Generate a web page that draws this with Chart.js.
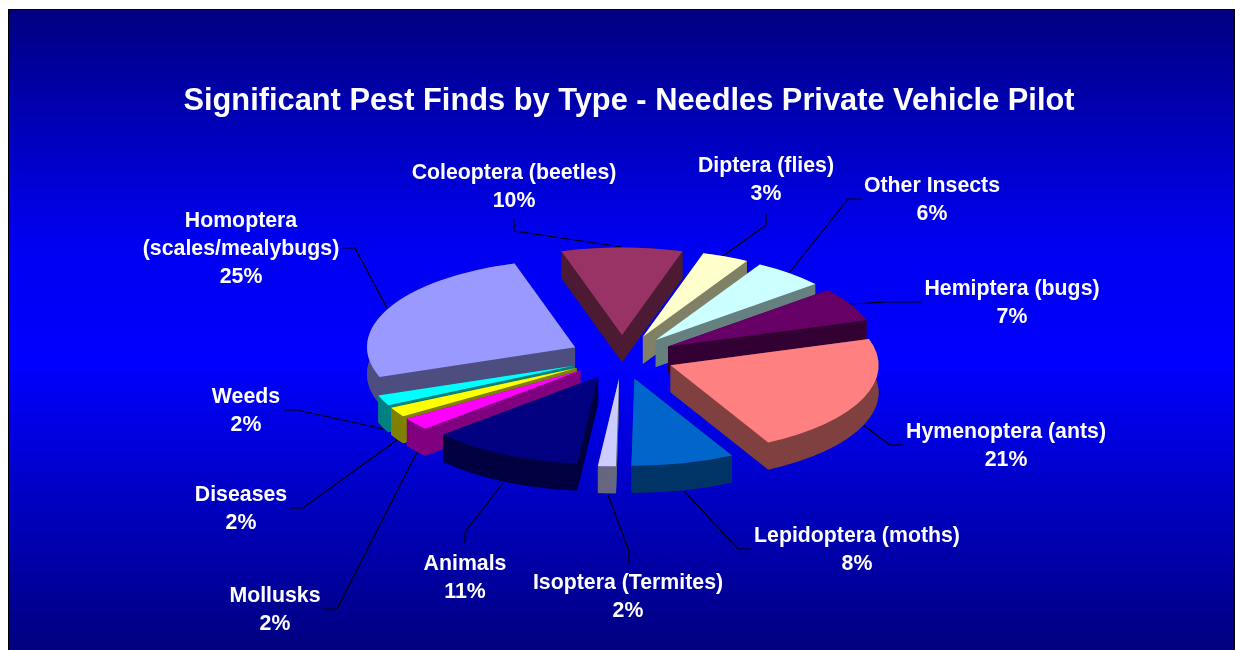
<!DOCTYPE html>
<html>
<head>
<meta charset="utf-8">
<title>Significant Pest Finds by Type</title>
<script src="https://cdn.jsdelivr.net/npm/chart.js@4"></script>
<style>
  html, body { margin: 0; padding: 0; background: #fff; overflow: hidden; }
  canvas { display: block; }
</style>
</head>
<body>
<canvas id="pest-chart" width="1235" height="650"></canvas>
<script>
// data (shares follow the drawn slice angles)
var categories = ['Coleoptera (beetles)', 'Diptera (flies)', 'Other Insects', 'Hemiptera (bugs)',
  'Hymenoptera (ants)', 'Lepidoptera (moths)', 'Isoptera (Termites)', 'Animals',
  'Mollusks', 'Diseases', 'Weeds', 'Homoptera (scales/mealybugs)'];
var shares = [9.39, 3.64, 5.56, 6.25, 22.08, 8.0, 1.39, 11.78, 2.31, 1.81, 1.94, 25.85];
var percentLabels = ['10%', '3%', '6%', '7%', '21%', '8%', '2%', '11%', '2%', '2%', '2%', '25%'];
var topColors = ['#993366', '#FFFFCC', '#CCFFFF', '#660066', '#FF8080', '#0066CC',
  '#CCCCFF', '#000080', '#FF00FF', '#FFFF00', '#00FFFF', '#9999FF'];
var sideColors = ['#4D1A33', '#808066', '#668080', '#330033', '#804040', '#003366',
  '#666680', '#000040', '#800080', '#808000', '#008080', '#4D4D80'];

// label text lines, label centre and leader line for each slice
var calloutLines = [['Coleoptera (beetles)'], ['Diptera (flies)'], ['Other Insects'], ['Hemiptera (bugs)'],
  ['Hymenoptera (ants)'], ['Lepidoptera (moths)'], ['Isoptera (Termites)'], ['Animals'],
  ['Mollusks'], ['Diseases'], ['Weeds'], ['Homoptera', '(scales/mealybugs)']];
var calloutPos = [[514, 173], [766, 166], [932, 186], [1012, 289], [1006, 432], [857, 536],
  [628, 583], [465, 564], [275, 596], [241, 495], [246, 397], [241, 221]];
var leaders = [
  [[514, 219], [514, 231], [622, 247]],
  [[766, 213], [766, 225], [723, 256]],
  [[861, 199], [848, 199], [789, 273]],
  [[921, 302], [887, 302], [849, 304]],
  [[903, 445], [890, 445], [863, 425]],
  [[751, 549], [738, 549], [684, 491]],
  [[629, 563], [629, 551], [608, 495]],
  [[465, 543], [465, 532], [503, 483]],
  [[324, 609], [337, 609], [417, 452]],
  [[290, 508], [303, 508], [397, 440]],
  [[284, 410], [297, 410], [383, 429]],
  [[342, 248], [355, 248], [387, 308]]
];

var pieX = 622, pieY = 357, explode = 52.5, tilt = 0.42, pieDepth = 27;
var labelFont = 'bold 21.3px "Liberation Sans", Arial, sans-serif';

// ============================== background frame ==============================
var backdrop = {
  id: 'backdrop',
  beforeDraw: function(chart) {
    var ctx = chart.ctx;
    var grad = ctx.createLinearGradient(0, 9, 0, 650);
    grad.addColorStop(0, '#000080');
    grad.addColorStop(0.36, '#0000F0');
    grad.addColorStop(0.55, '#0000FF');
    grad.addColorStop(1, '#000080');
    ctx.fillStyle = '#000';
    ctx.fillRect(8, 9, 1227, 641);
    ctx.fillStyle = grad;
    ctx.fillRect(9, 10, 1225, 640);
  }
};

// ============================== tilted pie with side walls ==============================
function midAngle(arc) {
  return (arc.startAngle + arc.endAngle) / 2;
}

function drawWalls(ctx, arc) {
  var mid = midAngle(arc);
  var ax = pieX + Math.cos(mid) * explode;
  var ay = pieY + Math.sin(mid) * explode * tilt;
  var rx = arc.outerRadius, ry = rx * tilt;
  var a0 = arc.startAngle, a1 = arc.endAngle;

  ctx.beginPath();
  ctx.moveTo(ax, ay + pieDepth);
  ctx.ellipse(ax, ay + pieDepth, rx, ry, 0, a0, a1);
  ctx.closePath();
  ctx.fill();

  // rim
  ctx.beginPath();
  ctx.ellipse(ax, ay, rx, ry, 0, a0, a1);
  ctx.ellipse(ax, ay + pieDepth, rx, ry, 0, a1, a0, true);
  ctx.closePath();
  ctx.fill();

  // the two cut faces
  [a0, a1].forEach(function(a) {
    var ex = ax + Math.cos(a) * rx, ey = ay + Math.sin(a) * ry;
    ctx.beginPath();
    ctx.moveTo(ax, ay);
    ctx.lineTo(ex, ey);
    ctx.lineTo(ex, ey + pieDepth);
    ctx.lineTo(ax, ay + pieDepth);
    ctx.closePath();
    ctx.fill();
  });
}

var tiltedPie = {
  id: 'tiltedPie',
  // replaces the flat pie drawing, the arcs themselves still come from the controller
  beforeDatasetDraw: function(chart) {
    var ctx = chart.ctx;
    var arcs = chart.getDatasetMeta(0).data;

    ctx.save();
    ctx.strokeStyle = '#000';
    ctx.lineWidth = 1.2;
    leaders.forEach(function(pts) {
      ctx.beginPath();
      ctx.moveTo(pts[0][0], pts[0][1]);
      ctx.lineTo(pts[1][0], pts[1][1]);
      ctx.lineTo(pts[2][0], pts[2][1]);
      ctx.stroke();
    });
    ctx.restore();

    // walls go first, back slices before front ones, tops are drawn over them
    var order = arcs.map(function(a, i) { return i; }).sort(function(p, q) {
      return Math.sin(midAngle(arcs[p])) - Math.sin(midAngle(arcs[q]));
    });
    order.forEach(function(i) {
      ctx.fillStyle = sideColors[i];
      drawWalls(ctx, arcs[i]);
    });

    arcs.forEach(function(arc) {
      var mid = midAngle(arc);
      ctx.save();
      ctx.translate(pieX + Math.cos(mid) * explode, pieY + Math.sin(mid) * explode * tilt);
      ctx.scale(1, tilt);
      ctx.translate(-arc.x, -arc.y);
      arc.draw(ctx);
      ctx.restore();
    });
    return false;
  }
};

// ============================== labels ==============================
var callouts = {
  id: 'callouts',
  afterDraw: function(chart) {
    var ctx = chart.ctx;
    ctx.save();
    ctx.fillStyle = '#fff';
    ctx.font = labelFont;
    ctx.textAlign = 'center';
    ctx.textBaseline = 'middle';
    calloutLines.forEach(function(lines, i) {
      var rows = lines.concat(percentLabels[i]);
      rows.forEach(function(row, r) {
        ctx.fillText(row, calloutPos[i][0], calloutPos[i][1] + r * 28);
      });
    });
    ctx.restore();
  }
};

var ctx = document.getElementById('pest-chart');
var pestChart = new Chart(ctx, {
  type: 'pie',
  data: {
    labels: categories,
    datasets: [{
      data: shares,
      backgroundColor: topColors,
      borderWidth: 0,
      hoverOffset: 0,
      clip: false
    }]
  },
  options: {
    responsive: false,
    animation: false,
    rotation: -16.9,
    layout: { padding: { left: 23, right: 0, top: 0, bottom: 114 } },
    plugins: {
      legend: { display: false },
      tooltip: { enabled: false },
      title: {
        display: true,
        text: 'Significant Pest Finds by Type - Needles Private Vehicle Pilot',
        color: '#fff',
        font: { family: '"Liberation Sans", Arial, sans-serif', size: 30.8, weight: 'bold' },
        padding: { top: 83, bottom: 0 }
      }
    }
  },
  plugins: [backdrop, tiltedPie, callouts]
});
</script>
</body>
</html>
